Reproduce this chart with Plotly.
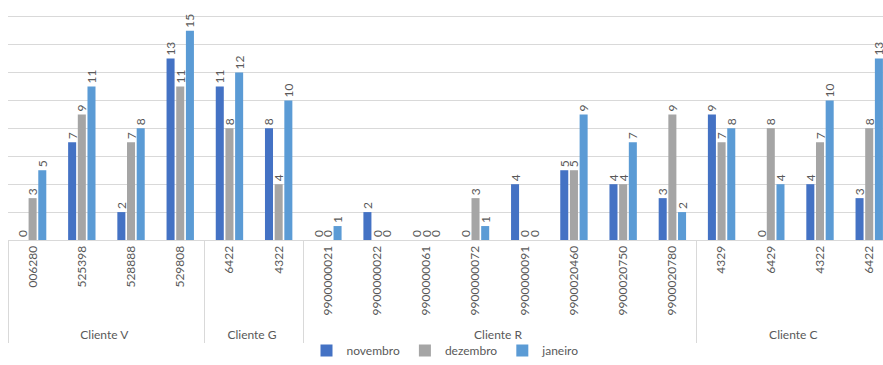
import plotly.graph_objects as go

# Client groups and item codes (two-level category axis)
clientes = ["Cliente V"] * 4 + ["Cliente G"] * 2 + ["Cliente R"] * 8 + ["Cliente C"] * 4
codigos = ["006280", "525398", "528888", "529808",
           "6422", "4322",
           "9900000021", "9900000022", "9900000061", "9900000072",
           "9900000091", "9900020460", "9900020750", "9900020780",
           "4329", "6429", "4322", "6422"]

novembro = [0, 7, 2, 13, 11, 8, 0, 2, 0, 0, 4, 5, 4, 3, 9, 0, 4, 3]
dezembro = [3, 9, 7, 11, 8, 4, 0, 0, 0, 3, 0, 5, 4, 9, 7, 8, 7, 8]
janeiro = [5, 11, 8, 15, 12, 10, 1, 0, 0, 1, 0, 9, 7, 2, 8, 4, 10, 13]

series = [("novembro", novembro, "#4472C4"),
          ("dezembro", dezembro, "#A5A5A5"),
          ("janeiro", janeiro, "#5B9BD5")]

# Codes repeated under another client get a leading space so the axis keeps
# them as separate categories in their original order (invisible when rotated).
seen = set()
rotulos = []
for c in codigos:
    rotulos.append(" " + c if c in seen else c)
    seen.add(c)

FONT = "Lato"
TXT = "#595959"
GRID = "#D9D9D9"

fig = go.Figure()
for name, vals, color in series:
    fig.add_trace(go.Bar(
        name=name,
        x=[clientes, rotulos],
        y=vals,
        marker=dict(color=color, line=dict(width=0)),
        texttemplate="%{y}",
        textposition="outside",
        textangle=-90,
        constraintext="none",
        cliponaxis=True,
        textfont=dict(family=FONT, size=12, color=TXT),
    ))

fig.update_layout(
    width=883, height=365,
    margin=dict(l=8, r=0, t=0, b=125),
    paper_bgcolor="white", plot_bgcolor="white",
    barmode="group", bargap=0.41, bargroupgap=0.17,
    font=dict(family=FONT, size=12, color=TXT),
    showlegend=True,
    legend=dict(orientation="h", x=0.5, xanchor="center",
                yref="container", y=-0.03, yanchor="bottom",
                font=dict(family=FONT, size=12, color=TXT), itemwidth=30,
                tracegroupgap=0, bgcolor="rgba(0,0,0,0)"),
    xaxis=dict(type="multicategory", range=[-0.5, 17.28], tickangle=-90,
               showline=True, linecolor=GRID, linewidth=1,
               showdividers=True, dividercolor=GRID, dividerwidth=1,
               ticks="", automargin=False,
               tickfont=dict(family=FONT, size=12, color=TXT)),
    yaxis=dict(range=[0, 17.2], dtick=2, showgrid=True, gridcolor=GRID, gridwidth=1,
               showticklabels=False, zeroline=False, showline=False, ticks="",
               automargin=False),
)

fig.write_html("out.html")
